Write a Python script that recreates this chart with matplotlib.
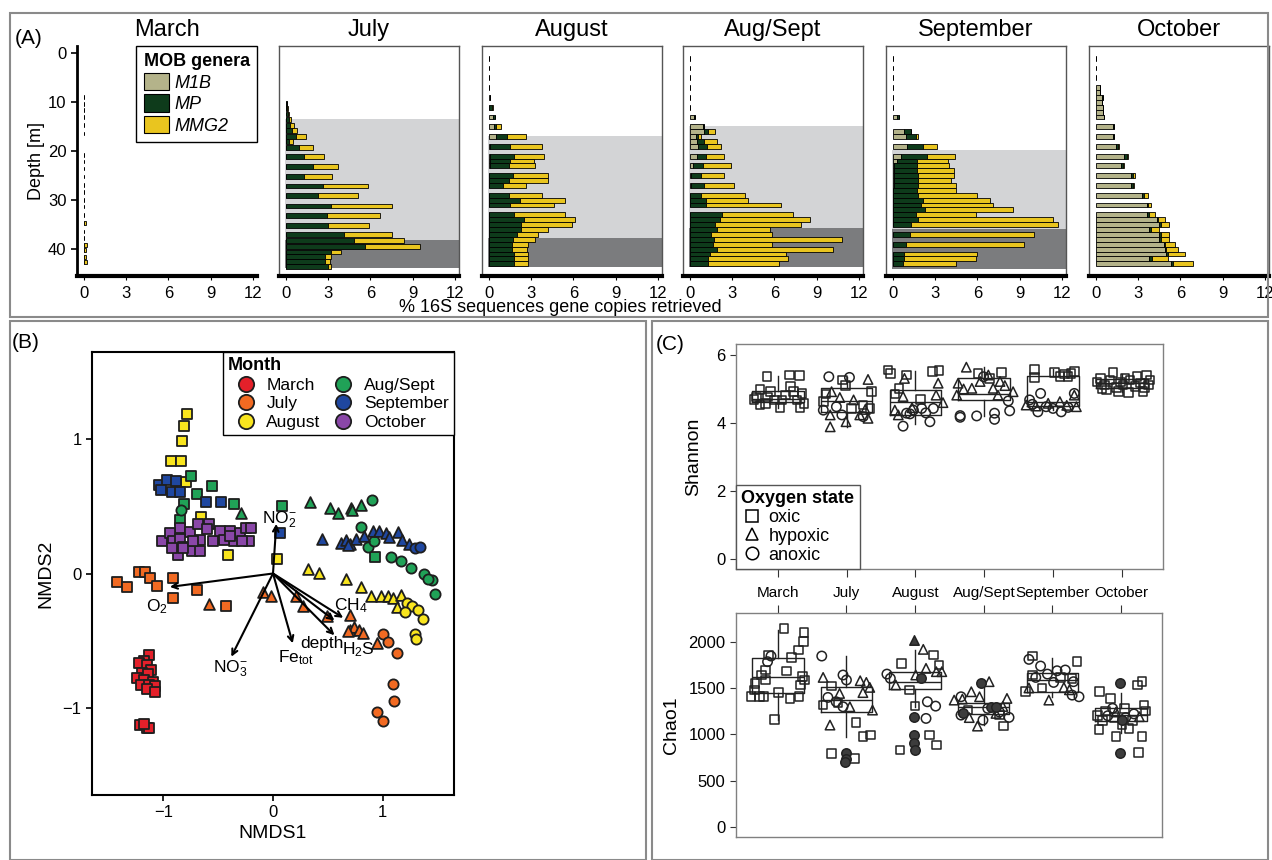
import matplotlib
matplotlib.use("Agg")
import matplotlib.pyplot as plt
from matplotlib.patches import Rectangle, Patch
from matplotlib.lines import Line2D

plt.rcParams['font.family'] = ['Liberation Sans', 'DejaVu Sans']
plt.rcParams['mathtext.default'] = 'regular'

months = ["March", "July", "August", "Aug/Sept", "September", "October"]

# ---------------- panel A: MOB genera per depth ----------------
genus_names = ["M1B", "MP", "MMG2"]
genus_colors = ["#b4b38a", "#0e3b1b", "#e9c51f"]

depth = {
    "March": [8.9, 10.3, 11.6, 13.0, 14.7, 16.4, 20.8, 22.1, 23.5, 25.2, 26.9, 28.3, 30.0, 31.3,
              33.0, 34.7, 36.4, 37.8, 39.2, 40.2, 41.6, 42.6],
    "July": [10.2, 11.3, 12.4, 13.5, 14.7, 15.8, 17, 18.1, 19.3, 21.1, 23.1, 25.1, 27.1, 29.1,
             31.2, 33.1, 35.1, 37.1, 38.3, 39.5, 40.6, 41.6, 42.6, 43.6],
    "August": [1, 3, 5, 7, 9, 11, 13, 15, 17, 19, 21, 22, 23, 25, 26, 27, 29, 30, 31, 33, 34,
               35, 36, 37, 38, 39, 40, 41, 42, 43],
    "Aug/Sept": [1, 3, 5, 7, 9, 11, 13, 15, 16, 17, 18, 19, 21, 23, 25, 27, 29, 30, 31, 33, 34,
                 35, 36, 37, 38, 39, 40, 41, 42, 43],
    "September": [1, 3, 5, 7, 9, 11, 13, 16, 17, 19, 21, 22, 23, 24, 25, 26, 27, 28, 29, 30, 31,
                  32, 33, 34, 35, 37, 39, 41, 42, 43],
    "October": [1, 3, 5, 7, 8, 9, 10, 11, 12, 13, 15, 17, 19, 21, 23, 25, 27, 29, 31, 33, 34, 35,
                36, 37, 38, 39, 40, 41, 42, 43],
}
m1b = {
    "March": [0] * 22,
    "July": [0] * 24,
    "August": [0.02, 0.02, 0.02, 0.02, 0.05, 0, 0.25, 0.33, 0.5, 0.1, 0.05, 0.05, 0.05, 0, 0, 0,
               0, 0, 0, 0, 0, 0, 0, 0, 0, 0, 0, 0, 0, 0],
    "Aug/Sept": [0.02, 0.02, 0.02, 0.02, 0.02, 0.03, 0.3, 0.9, 1.0, 0.4, 0.5, 0.6, 0.5, 0.2, 0.1,
                 0.1, 0, 0, 0, 0, 0, 0, 0, 0, 0, 0, 0, 0, 0, 0],
    "September": [0.02, 0.02, 0.02, 0.02, 0.02, 0.02, 0.3, 0.8, 0.9, 1.0, 0.6, 0.3, 0.1, 0.05,
                  0.05, 0.05, 0.05, 0, 0, 0, 0, 0, 0, 0, 0, 0, 0, 0, 0, 0],
    "October": [0.02, 0.02, 0.03, 0.25, 0.25, 0.45, 0.45, 0.5, 0.5, 0.6, 1.2, 1.2, 1.4, 2.0, 1.8,
                2.5, 2.5, 3.3, 3.6, 3.6, 4.3, 4.5, 3.8, 4.5, 4.5, 4.8, 4.9, 5.0, 3.8, 5.3],
}
mp = {
    "March": [0.03] * 22,
    "July": [0.05, 0.1, 0.15, 0.2, 0.3, 0.4, 0.7, 0.2, 0.9, 1.3, 1.9, 1.3, 2.6, 2.3, 3.2, 2.9,
             3.0, 4.1, 4.8, 5.6, 3.2, 2.8, 2.8, 3.0],
    "August": [0, 0, 0, 0, 0.03, 0.2, 0.2, 0.19, 0.8, 1.4, 1.75, 1.45, 1.35, 1.7, 1.4, 1.0, 1.4,
               2.2, 1.5, 1.8, 2.5, 2.3, 2.3, 2.0, 1.7, 1.6, 1.6, 1.8, 1.8, 1.8],
    "Aug/Sept": [0, 0, 0, 0, 0, 0, 0.05, 0.1, 0.3, 0.2, 0.5, 0.6, 0.6, 0.7, 0.7, 0.9, 0.8, 1.1,
                 1.1, 2.3, 2.1, 1.8, 1.9, 1.5, 1.7, 1.6, 1.9, 1.4, 1.3, 1.3],
    "September": [0, 0, 0, 0, 0, 0, 0.15, 0.5, 0.7, 1.1, 1.8, 1.4, 1.6, 1.65, 1.75, 1.75, 1.75,
                  1.7, 1.8, 2.1, 2.0, 2.3, 1.6, 1.8, 1.3, 1.2, 0.9, 0.8, 0.8, 0.7],
    "October": [0, 0, 0, 0.05, 0, 0.03, 0, 0, 0, 0, 0.1, 0.1, 0.15, 0.2, 0.15, 0.1, 0.1, 0.1,
                0.1, 0.2, 0.1, 0.1, 0.1, 0.1, 0.1, 0.1, 0.1, 0.1, 0.2, 0.2],
}
mmg2 = {
    "March": [0, 0, 0, 0, 0, 0, 0, 0, 0, 0, 0, 0, 0, 0, 0, 0.12, 0, 0, 0.17, 0.12, 0.14, 0.2],
    "July": [0, 0.02, 0.05, 0.15, 0.3, 0.4, 0.7, 0.3, 1.0, 1.4, 1.8, 2.0, 3.2, 2.8, 4.3, 3.8,
             2.9, 3.4, 3.6, 3.9, 0.7, 0.4, 0.3, 0.2],
    "August": [0, 0, 0, 0, 0, 0.05, 0, 0.36, 1.3, 2.3, 2.1, 1.7, 1.9, 2.5, 2.8, 1.6, 2.4, 3.2,
               3.1, 3.6, 3.6, 3.6, 1.9, 1.5, 1.6, 1.2, 1.1, 1.0, 1.0, 1.0],
    "Aug/Sept": [0, 0, 0, 0, 0, 0, 0, 0, 0.5, 0.2, 0.9, 1.0, 1.3, 2.0, 1.6, 2.1, 3.1, 3.0, 5.4,
                 5.0, 6.4, 6.1, 3.8, 4.3, 9.1, 4.2, 8.3, 5.4, 5.7, 5.0],
    "September": [0, 0, 0, 0, 0, 0, 0, 0, 0.2, 1.0, 2.0, 2.2, 2.3, 2.6, 2.5, 2.3, 2.7, 2.8, 4.2,
                  4.8, 5.1, 6.2, 4.3, 9.6, 10.4, 8.8, 8.4, 5.2, 5.1, 3.8],
    "October": [0, 0, 0, 0, 0, 0.02, 0, 0, 0, 0, 0, 0, 0.05, 0.1, 0.05, 0.2, 0.1, 0.3, 0.2, 0.4,
                0.5, 0.6, 0.6, 0.6, 0.6, 0.7, 0.8, 1.2, 1.1, 1.4],
}
bar_height = {"March": 0.75, "July": 1.0, "August": 1.0, "Aug/Sept": 1.0, "September": 1.0,
              "October": 1.0}
# hypoxic start, anoxic start, bottom (m)
zones = {
    "July": (13.4, 38.1, 43.9),
    "August": (16.9, 37.8, 43.6),
    "Aug/Sept": (14.8, 35.6, 43.7),
    "September": (19.8, 35.8, 44.0),
}

# ---------------- panel B: NMDS ----------------
month_colors = {"March": "#e4202a", "July": "#f26a22", "August": "#f9e51e",
                "Aug/Sept": "#20a257", "September": "#1f47a0", "October": "#8a47a8"}
nmds_x = {
    "March": [-1.13, -1.18, -1.22, -1.15, -1.11, -1.19, -1.14, -1.24, -1.18, -1.09, -1.20, -1.13,
              -1.08, -1.15, -1.08, -1.21, -1.15, -1.13, -1.18],
    "July": [-1.42, -1.33, -1.22, -1.17, -1.12, -1.06, -0.91, -0.69, -0.91, -0.43,
             -0.58, -0.09, -0.02, 0.21, 0.27, 0.49, 0.70, 0.70, 0.74, 0.78, 0.82, 0.95, 0.68,
             1.00, 1.05, 1.13, 1.09, 1.10, 0.95, 1.00],
    "August": [-0.78, -0.81, -0.83, -0.93, -0.84, -0.79, -0.66, -0.41, 0.04,
               0.32, 0.42, 0.67, 0.80, 0.89, 0.98, 1.05, 1.09, 1.17, 1.13,
               1.22, 1.27, 1.32, 1.37, 1.29, 1.30, 1.20],
    "Aug/Sept": [-0.75, -0.56, -0.69, -0.36, -0.81, -0.85, 0.08, 0.93,
                 -0.29, 0.34, 0.52, 0.59, 0.71, 0.80, 0.72,
                 -0.84, 0.90, 0.80, 0.87, 0.92, 1.08, 1.17, 1.26, 1.38, 1.45, 1.48, 1.41],
    "September": [-1.04, -0.97, -1.02, -0.92, -0.85, -0.88, -0.61, -0.47, 0.06,
                  0.45, 0.62, 0.67, 0.70, 0.76, 0.83, 0.91, 0.97, 1.03, 1.06, 1.14, 1.18, 1.24,
                  0.68, 1.29, 1.34],
    "October": [-0.85, -0.76, -0.68, -0.58, -0.60, -1.01, -0.94, -0.91, -0.85, -0.82, -0.74,
                -0.67, -0.67, -0.87, -0.82, -0.55, -0.48, -0.39, -0.36, -0.30, -0.25, -0.20,
                -0.22, -0.28, -0.45, -0.39, -0.92, -0.73],
}
nmds_y = {
    "March": [-0.61, -0.65, -0.67, -0.68, -0.72, -0.74, -0.75, -0.78, -0.79, -0.81, -0.83, -0.83,
              -0.84, -0.86, -0.88, -1.13, -1.15, -1.15, -1.12],
    "July": [-0.06, -0.10, 0.01, 0.01, -0.03, -0.09, -0.03, -0.12, -0.18, -0.24,
             -0.23, -0.14, -0.17, -0.17, -0.24, -0.32, -0.31, -0.42, -0.40, -0.42, -0.44, -0.52,
             -0.43, -0.45, -0.51, -0.59, -0.82, -0.95, -1.03, -1.10],
    "August": [1.19, 1.10, 0.99, 0.84, 0.84, 0.68, 0.42, 0.14, 0.11,
               0.03, 0.005, -0.04, -0.10, -0.17, -0.17, -0.17, -0.18, -0.16, -0.25,
               -0.22, -0.24, -0.27, -0.34, -0.45, -0.49, -0.29],
    "Aug/Sept": [0.73, 0.65, 0.59, 0.52, 0.52, 0.40, 0.50, 0.12,
                 0.45, 0.53, 0.49, 0.45, 0.49, 0.51, 0.47,
                 0.47, 0.55, 0.35, 0.20, 0.24, 0.12, 0.09, 0.04, -0.005, -0.05, -0.15, -0.04],
    "September": [0.66, 0.70, 0.62, 0.61, 0.61, 0.69, 0.53, 0.53, 0.30,
                  0.26, 0.23, 0.25, 0.22, 0.26, 0.28, 0.32, 0.32, 0.30, 0.27, 0.31, 0.25, 0.22,
                  0.21, 0.19, 0.20],
    "October": [0.34, 0.31, 0.37, 0.37, 0.33, 0.24, 0.30, 0.24, 0.26, 0.20, 0.17, 0.25, 0.17,
                0.14, 0.19, 0.24, 0.32, 0.32, 0.24, 0.30, 0.34, 0.34, 0.24, 0.24, 0.25, 0.28,
                0.19, 0.24],
}
nmds_shape = {
    "March": "sssssssssssssssssss",
    "July": "ssssssssss^^^^^^^^^^^^^ooooooo",
    "August": "sssssssss^^^^^^^^^^ooooooo",
    "Aug/Sept": "ssssssss^^^^^^^oooooooooooo",
    "September": "sssssssss^^^^^^^^^^^^^^oo",
    "October": "ssssssssssssssssssssssssssss",
}
env_names = ["O$_2$", "NO$_2^{-}$", "NO$_3^{-}$", "Fe$_{tot}$", "depth", "CH$_4$", "H$_2$S"]
env_x = [-0.94, 0.03, -0.38, 0.18, 0.56, 0.64, 0.56]
env_y = [-0.10, 0.37, -0.62, -0.52, -0.46, -0.33, -0.35]
env_lab_x = [-1.06, 0.06, -0.39, 0.21, 0.45, 0.71, 0.78]
env_lab_y = [-0.25, 0.40, -0.71, -0.63, -0.52, -0.24, -0.57]

# ---------------- panel C: diversity ----------------
# shape codes: s/^/o open, S/T/O filled
shannon_box = {  # q1, median, q3, whisker low, whisker high
    "March": (4.62, 4.72, 4.95, 4.45, 5.38),
    "July": (4.33, 4.64, 5.02, 3.90, 5.35),
    "August": (4.24, 4.63, 4.97, 3.97, 5.54),
    "Aug/Sept": (4.68, 4.85, 5.31, 4.20, 5.65),
    "September": (4.50, 4.63, 5.38, 4.38, 5.60),
    "October": (5.03, 5.17, 5.28, 4.90, 5.45),
}
shannon_val = {
    "March": [5.36, 5.41, 5.39, 5.07, 4.99, 4.92, 4.68, 4.77, 4.53, 4.58, 4.77, 4.46, 4.82, 4.92,
              4.87, 4.58, 4.46, 4.68, 4.68, 4.70],
    "July": [5.36, 5.34, 4.24, 4.48, 4.19, 4.38, 3.89, 4.04, 4.24, 5.28, 4.14, 4.24, 4.68, 4.92,
             4.40, 4.75, 5.26, 5.10, 4.92, 4.63, 4.43, 4.53, 4.43, 4.85],
    "August": [5.56, 5.46, 5.41, 5.51, 5.54, 5.02, 4.70, 4.85, 5.31, 5.17, 4.82, 4.60, 4.38, 4.78,
               4.24, 4.45, 3.91, 4.04, 4.29, 4.38, 4.43, 4.43, 4.27, 4.30],
    "Aug/Sept": [5.64, 5.17, 4.82, 5.02, 5.22, 5.02, 4.82, 4.92, 5.41, 5.22, 5.00, 5.10, 5.46, 5.48,
                 5.31, 4.17, 4.22, 4.21, 4.29, 4.11, 4.36, 5.36, 4.65],
    "September": [5.58, 5.34, 5.48, 5.44, 5.51, 5.36, 5.36, 5.45, 4.53, 4.58, 4.63, 4.82, 4.48,
                  4.50, 4.52, 4.68, 4.33, 4.87, 4.33, 4.87, 4.48, 4.43, 4.46, 4.55],
    "October": [5.31, 5.12, 5.48, 5.05, 4.89, 5.36, 5.41, 5.12, 4.92, 5.26, 5.12, 4.97, 5.02, 5.26,
                4.92, 5.07, 5.17, 5.26, 5.20, 5.30, 5.05, 5.20],
}
shannon_dx = {
    "March": [-0.16, 0.17, 0.31, 0.18, -0.26, -0.11, -0.05, -0.31, -0.26, -0.18, -0.15, 0.03, 0.11,
              0.23, 0.35, 0.38, 0.32, 0.28, 0.06, -0.35],
    "July": [-0.26, 0.04, -0.07, -0.15, 0.24, -0.34, -0.24, -0.01, -0.24, 0.31, 0.31, 0.19, 0.10,
             -0.22, 0.27, -0.10, -0.06, -0.02, 0.36, -0.34, 0.07, 0.24, 0.34, -0.30],
    "August": [-0.40, -0.36, -0.13, 0.25, 0.34, -0.24, 0.07, -0.30, -0.16, 0.33, 0.30, 0.40, -0.30,
               -0.18, -0.25, -0.05, -0.18, 0.21, -0.13, -0.03, 0.09, 0.26, -0.08, 0.15],
    "Aug/Sept": [-0.26, -0.38, -0.40, -0.18, -0.06, 0.13, 0.20, 0.42, 0.06, 0.23, -0.30, 0.30,
                 -0.09, 0.25, 0.08, -0.35, -0.35, -0.11, 0.15, 0.15, 0.37, -0.01, 0.35],
    "September": [-0.27, -0.27, 0.02, 0.17, 0.31, 0.10, 0.22, 0.26, -0.39, -0.07, 0.10, 0.31, 0.34,
                  -0.25, 0.20, -0.34, -0.22, -0.18, 0.12, 0.31, -0.10, 0.00, 0.22, -0.30],
    "October": [-0.31, -0.25, -0.13, -0.08, 0.10, 0.22, 0.36, 0.39, 0.31, 0.12, 0.02, -0.22, -0.29,
                -0.17, -0.05, 0.19, 0.27, 0.41, -0.36, 0.05, 0.33, -0.02],
}
shannon_shape = {
    "March": "ssssssssssssssssssss",
    "July": "oooooo^^^^^^^^^^ssssssss",
    "August": "ssssssss^^^^^^^^oooooooo",
    "Aug/Sept": "^^^^^^^^^^^^sssoooooooo",
    "September": "ssssssss^^^^^^^ooooooooo",
    "October": "ssssssssssssssssssssss",
}
chao_box = {
    "March": (1450, 1615, 1825, 1150, 2130),
    "July": (1243, 1369, 1514, 973, 1845),
    "August": (1485, 1568, 1676, 1297, 1910),
    "Aug/Sept": (1220, 1290, 1335, 1100, 1560),
    "September": (1459, 1586, 1665, 1405, 1820),
    "October": (1146, 1207, 1279, 1009, 1449),
}
chao_val = {
    "March": [1405, 1550, 1405, 1405, 1640, 1585, 2144, 1160, 1449, 1683, 1387, 1830, 1910, 1405,
              1532, 1622, 2000, 2097, 1586, 1856, 1694, 1478, 1784, 1845],
    "July": [1845, 1398, 1640, 1586, 1351, 1297, 1614, 1099, 1441, 1297, 1578, 1450, 1506, 1261,
             1560, 793, 1124, 973, 991, 739, 1315, 1521, 1340, 793, 728, 700],
    "August": [1650, 1604, 1351, 1304, 1171, 1766, 1304, 829, 991, 883, 1856, 1748, 1477, 1532,
               1917, 1712, 1676, 1676, 1640, 2018, 1189, 991, 901, 829, 1604],
    "Aug/Sept": [1369, 1380, 1459, 1405, 1568, 1088, 1225, 1387, 1300, 1180, 1405, 1207, 1279,
                 1182, 1153, 1240, 1088, 1207, 1260, 1550, 1297, 1290, 1225],
    "September": [1845, 1459, 1784, 1600, 1614, 1640, 1500, 1369, 1506, 1480, 1500, 1809, 1737,
                  1614, 1686, 1405, 1694, 1568, 1423, 1560, 1650],
    "October": [1459, 1052, 1387, 973, 1063, 1532, 1568, 800, 973, 1315, 1279, 1200, 1250, 1180,
                1150, 1250, 1100, 1150, 1280, 1220, 1180, 1200, 1240, 1190, 1550, 800, 1150],
}
chao_dx = {
    "March": [-0.39, -0.33, -0.27, -0.21, -0.24, -0.18, 0.09, -0.05, 0.01, 0.13, 0.18, 0.20, 0.30,
              0.31, 0.33, 0.36, 0.37, 0.38, 0.39, -0.14, -0.18, -0.34, -0.15, -0.10],
    "July": [-0.36, -0.27, -0.05, 0.0, -0.15, -0.05, -0.34, -0.24, -0.10, 0.05, 0.20, 0.24, 0.34,
             0.38, 0.29, -0.22, 0.14, 0.24, 0.35, 0.12, -0.34, -0.22, -0.12, -0.01, -0.01, -0.02],
    "August": [-0.41, -0.36, 0.18, 0.30, 0.16, -0.20, 0.0, -0.22, 0.21, 0.31, 0.27, 0.35, -0.08,
               -0.28, 0.12, 0.16, 0.31, 0.39, 0.01, -0.01, -0.01, -0.01, -0.01, 0.0, 0.09],
    "Aug/Sept": [-0.43, -0.31, -0.18, -0.06, 0.08, -0.09, 0.18, 0.34, 0.28, -0.21, -0.33, -0.33,
                 0.06, 0.37, -0.01, 0.23, 0.29, 0.23, -0.23, -0.04, 0.11, 0.18, -0.30],
    "September": [-0.29, -0.39, 0.36, 0.29, 0.12, -0.29, -0.15, -0.05, 0.17, 0.25, -0.34, -0.34,
                  -0.17, -0.24, 0.07, 0.39, 0.19, 0.31, 0.29, 0.02, -0.07],
    "October": [-0.31, -0.32, -0.15, -0.07, 0.12, 0.24, 0.31, 0.26, 0.31, 0.34, 0.05, -0.34, -0.22,
                -0.10, 0.17, 0.36, 0.02, -0.27, -0.12, 0.19, 0.07, -0.19, -0.07, 0.27, -0.01,
                -0.01, 0.02],
}
chao_shape = {
    "March": "ssssssssssssssssssssssoo",
    "July": "oooooo^^^^^^^^^ssssssssOOO",
    "August": "ooooossssssss^^^^^^TOOOOO",
    "Aug/Sept": "^^^^^^^^^^oooooosssOOOO",
    "September": "sssssss^^^^oooooooooo",
    "October": "ssssssssssssssssss" + "oooo^^OOO",
}

# ---------------- figure ----------------
fig = plt.figure(figsize=(12.72, 8.6), dpi=100)


def px_axes(x0, y0, x1, y1):
    return fig.add_axes([x0 / 1272, 1 - y1 / 860, (x1 - x0) / 1272, (y1 - y0) / 860])


# panel frames
for x0, y0, x1, y1 in [(10, 13, 1268, 317), (10, 321, 646, 860), (652, 321, 1268, 860)]:
    fig.add_artist(Rectangle((x0 / 1272, 1 - y1 / 860), (x1 - x0) / 1272, (y1 - y0) / 860,
                             transform=fig.transFigure, fill=False, ec="#8a8a8a", lw=1.5))

fig.text(15 / 1272, 1 - 38 / 860, "(A)", fontsize=15, va="center")
fig.text(12 / 1272, 1 - 343 / 860, "(B)", fontsize=15, va="center")
fig.text(656 / 1272, 1 - 345 / 860, "(C)", fontsize=15, va="center")

# ---- A ----
lefts = [77, 279, 482, 683, 886, 1089]
for i, m in enumerate(months):
    ax = px_axes(lefts[i], 46, lefts[i] + 180, 276)
    d = depth[m]
    a = m1b[m]
    b = mp[m]
    c = mmg2[m]
    ab = [p + q for p, q in zip(a, b)]
    h = bar_height[m]
    ax.barh(d, a, height=h, color=genus_colors[0], ec="black", lw=0.6, zorder=3)
    ax.barh(d, b, left=a, height=h, color=genus_colors[1], ec="black", lw=0.6, zorder=3)
    ax.barh(d, c, left=ab, height=h, color=genus_colors[2], ec="black", lw=0.6, zorder=3)
    if m in zones:
        t, mid, bot = zones[m]
        ax.fill_betweenx([t, mid], -0.1, 12.3, color="#d3d4d6", lw=0, zorder=1)
        ax.fill_betweenx([mid, bot], -0.1, 12.3, color="#7b7c7e", lw=0, zorder=1)
    ax.set_xlim(-0.5, 12.3)
    ax.set_ylim(45.5, -1.5)
    ax.set_xticks([0, 3, 6, 9, 12])
    ax.tick_params(axis="x", labelsize=12, length=3, pad=4)
    ax.set_title(m, fontsize=17, pad=7)
    ax.spines["bottom"].set_linewidth(3)
    ax.spines["bottom"].set_color("black")
    if i == 0:
        ax.spines["top"].set_visible(False)
        ax.spines["right"].set_visible(False)
        ax.spines["left"].set_linewidth(2)
        ax.set_yticks([0, 10, 20, 30, 40])
        ax.tick_params(axis="y", labelsize=12, length=4, width=1.2)
        ax.set_ylabel("Depth [m]", fontsize=13, labelpad=2)
        handles = [Patch(fc=col, ec="black", lw=0.8) for col in genus_colors]
        leg = ax.legend(handles, genus_names, loc="upper right", bbox_to_anchor=(1.0, 1.0),
                        borderaxespad=0, title="MOB genera", alignment="left",
                        prop={"style": "italic", "size": 13},
                        title_fontproperties={"weight": "bold", "size": 13},
                        handlelength=1.4, handleheight=1.1, handletextpad=0.3,
                        labelspacing=0.15, fancybox=False, edgecolor="black", framealpha=1)
        leg.get_frame().set_linewidth(1)
    else:
        ax.set_yticks([])
        for s in ["top", "left", "right"]:
            ax.spines[s].set_color("#555555")
            ax.spines[s].set_linewidth(1)

fig.text(560 / 1272, 1 - 308 / 860, "% 16S sequences gene copies retrieved",
         fontsize=13, ha="center", va="center")

# ---- B ----
markers = {"s": "s", "^": "^", "o": "o", "S": "s", "T": "^", "O": "o"}
sizes = {"s": 46, "^": 60, "o": 54}
axB = px_axes(92, 352, 454, 795)
for m in months:
    for code in "s^o":
        xs = [x for x, sh in zip(nmds_x[m], nmds_shape[m]) if sh == code]
        ys = [y for y, sh in zip(nmds_y[m], nmds_shape[m]) if sh == code]
        if xs:
            axB.scatter(xs, ys, marker=markers[code], s=sizes[code], c=month_colors[m],
                        edgecolors="#1e1e1e", linewidths=1.3, zorder=3)
for name, x, y, lx, ly in zip(env_names, env_x, env_y, env_lab_x, env_lab_y):
    axB.annotate("", xy=(x, y), xytext=(0, 0),
                 arrowprops=dict(arrowstyle="->", lw=1.5, color="black",
                                 shrinkA=0, shrinkB=0, mutation_scale=10), zorder=4)
    axB.text(lx, ly, name, fontsize=12.5, ha="center", va="center", zorder=5)
axB.set_xlim(-1.65, 1.65)
axB.set_ylim(-1.65, 1.65)
axB.set_xticks([-1, 0, 1])
axB.set_yticks([-1, 0, 1])
axB.tick_params(labelsize=12, length=4, width=1.2)
for s in axB.spines.values():
    s.set_linewidth(1.5)
axB.set_xlabel("NMDS1", fontsize=14, labelpad=3)
axB.set_ylabel("NMDS2", fontsize=14, labelpad=6)
mh = [Line2D([], [], marker="o", ls="", ms=11, mfc=month_colors[m], mec="#1e1e1e", mew=1.3)
      for m in months]
legB = axB.legend(mh, months, loc="upper right", bbox_to_anchor=(1.0, 1.0), borderaxespad=0,
                  ncol=2, title="Month", alignment="left", fontsize=12.5,
                  title_fontproperties={"weight": "bold", "size": 13},
                  handletextpad=0.2, columnspacing=0.3, labelspacing=0.2, borderpad=0.3,
                  fancybox=False, edgecolor="black", framealpha=1)
legB.get_frame().set_linewidth(1)

# ---- C ----
axS = px_axes(736, 344, 1163, 569)
axC = px_axes(736, 613, 1162, 837)
for ax, box, vals, dxs, shapes in [(axS, shannon_box, shannon_val, shannon_dx, shannon_shape),
                                    (axC, chao_box, chao_val, chao_dx, chao_shape)]:
    stats = [dict(q1=box[m][0], med=box[m][1], q3=box[m][2], whislo=box[m][3],
                  whishi=box[m][4], fliers=[]) for m in months]
    ax.bxp(stats, positions=range(6), widths=0.75, showfliers=False, showcaps=False,
           boxprops=dict(color="#222222", lw=1), whiskerprops=dict(color="#222222", lw=1),
           medianprops=dict(color="#222222", lw=1))
    for i, m in enumerate(months):
        for code in "s^oSTO":
            xs = [i + dx for dx, sh in zip(dxs[m], shapes[m]) if sh == code]
            ys = [v for v, sh in zip(vals[m], shapes[m]) if sh == code]
            if not xs:
                continue
            fc = "#3c3c3c" if code.isupper() else "none"
            ax.scatter(xs, ys, marker=markers[code], s=38 if code in "sS" else 46,
                       facecolors=fc, edgecolors="#222222", linewidths=1.1, zorder=3)
    ax.set_xlim(-0.61, 5.6)
    for s in ax.spines.values():
        s.set_color("#808080")
        s.set_linewidth(1)
    ax.tick_params(axis="y", labelsize=12, length=4, color="#333333")

axS.set_ylim(-0.28, 6.32)
axS.set_yticks([0, 2, 4, 6])
axS.set_xticks(range(6))
axS.set_xticklabels(months, fontsize=11)
axS.tick_params(axis="x", length=6, pad=6, color="#333333")
axS.set_ylabel("Shannon", fontsize=14, labelpad=10)
oh = [Line2D([], [], marker=mk, ls="", ms=9, mfc="none", mec="black", mew=1.1)
      for mk in ["s", "^", "o"]]
legS = axS.legend(oh, ["oxic", "hypoxic", "anoxic"], loc="lower left", bbox_to_anchor=(0, 0),
                  borderaxespad=0, title="Oxygen state", alignment="left", fontsize=13,
                  title_fontproperties={"weight": "bold", "size": 13},
                  handletextpad=0.3, labelspacing=0.1, borderpad=0.3, handlelength=1.2,
                  fancybox=False, edgecolor="#555555", framealpha=1)
legS.get_frame().set_linewidth(1)

axC.set_ylim(-110, 2310)
axC.set_yticks([0, 500, 1000, 1500, 2000])
axC.set_xticks(range(6))
axC.tick_params(axis="x", top=True, bottom=False, labeltop=False, labelbottom=False,
                length=6, color="#333333")
axC.set_ylabel("Chao1", fontsize=14, labelpad=6)

fig.savefig("out.png", dpi=100)
